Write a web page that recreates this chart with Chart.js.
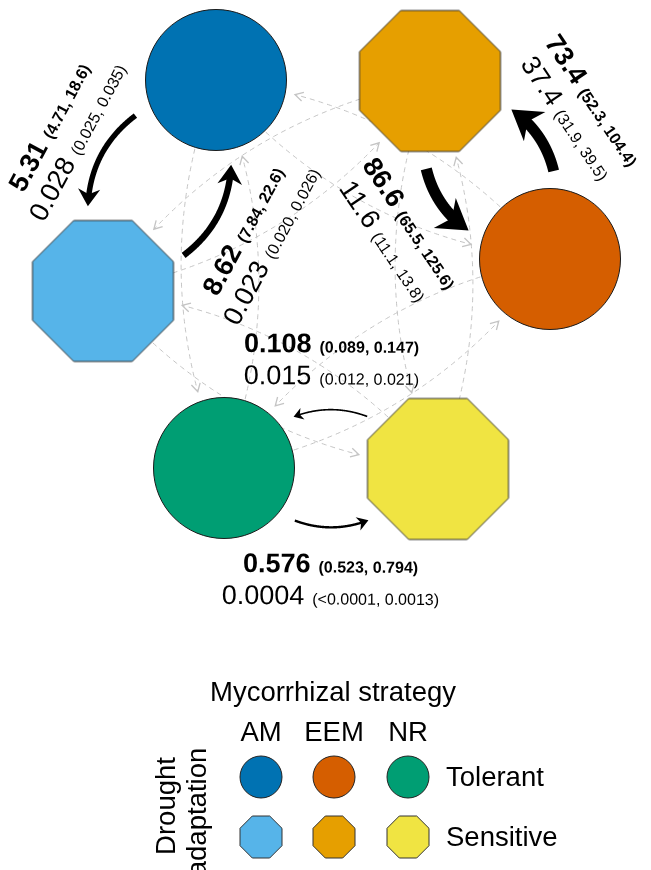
<!DOCTYPE html>
<html>
<head>
<meta charset="utf-8">
<script src="https://cdn.jsdelivr.net/npm/chart.js@4.4.1/dist/chart.umd.min.js"></script>
<style>
  html, body { margin: 0; padding: 0; background: #fff; }
  canvas { display: block; }
</style>
</head>
<body>
<canvas id="chart" width="651" height="870"></canvas>
<script>
// states: mycorrhizal strategy x drought adaptation
const stateNames = ['AM tolerant', 'AM sensitive', 'EEM sensitive', 'EEM tolerant', 'NR tolerant', 'NR sensitive'];
const stateMyco = ['AM', 'AM', 'EEM', 'EEM', 'NR', 'NR'];
const stateDrought = ['Tolerant', 'Sensitive', 'Sensitive', 'Tolerant', 'Tolerant', 'Sensitive'];
const stateX = [216, 103, 430, 550, 224, 438];
const stateY = [80, 291, 81, 259, 468, 469];
const stateShape = ['circle', 'octagon', 'octagon', 'circle', 'circle', 'octagon'];
const stateColor = ['#0072B2', '#56B4E9', '#E69F00', '#D55E00', '#009E73', '#F0E442'];

// drought-adaptation transitions (black arrows)
const fromState = [0, 1, 2, 3, 5, 4];
const toState = [1, 0, 3, 2, 4, 5];
const rate = ['5.31', '8.62', '86.6', '73.4', '0.108', '0.576'];
const rateCI = ['(4.71, 18.6)', '(7.84, 22.6)', '(65.5, 125.6)', '(52.3, 104.4)', '(0.089, 0.147)', '(0.523, 0.794)'];
const prob = ['0.028', '0.023', '11.6', '37.4', '0.015', '0.0004'];
const probCI = ['(0.025, 0.035)', '(0.020, 0.026)', '(11.1, 13.8)', '(31.9, 39.5)', '(0.012, 0.021)', '(<0.0001, 0.0013)'];

// legend
const legendTitle = 'Mycorrhizal strategy';
const strategyLabels = ['AM', 'EEM', 'NR'];
const adaptationLabels = ['Tolerant', 'Sensitive'];
const adaptationTitle = ['Drought', 'adaptation'];

const FONT = '"Liberation Sans", Arial, sans-serif';
const NODE_R = 70.5;

function octagon(color, apothem) {
  const R = apothem / Math.cos(Math.PI / 8);
  const size = Math.ceil(2 * R + 4);
  const c = document.createElement('canvas');
  c.width = c.height = size;
  const g = c.getContext('2d');
  tracePoly(g, size / 2, size / 2, R);
  g.fillStyle = color;
  g.fill();
  g.strokeStyle = '#333';
  g.lineWidth = 1;
  g.stroke();
  return c;
}

function tracePoly(g, cx, cy, R) {
  g.beginPath();
  for (let i = 0; i < 8; i++) {
    const a = Math.PI / 8 + i * Math.PI / 4;
    const x = cx + R * Math.cos(a), y = cy + R * Math.sin(a);
    if (i) g.lineTo(x, y); else g.moveTo(x, y);
  }
  g.closePath();
}

function pix(chart, i) {
  return [chart.scales.x.getPixelForValue(stateX[i]), chart.scales.y.getPixelForValue(stateY[i])];
}

// curved edge between two state centres, clipped near both nodes
function edgePath(a, b, k, startGap, endGap) {
  const dx = b[0] - a[0], dy = b[1] - a[1], L = Math.hypot(dx, dy);
  const nx = -dy / L, ny = dx / L;
  const cx = (a[0] + b[0]) / 2 + k * L * nx, cy = (a[1] + b[1]) / 2 + k * L * ny;
  const P = t => [
    (1 - t) * (1 - t) * a[0] + 2 * (1 - t) * t * cx + t * t * b[0],
    (1 - t) * (1 - t) * a[1] + 2 * (1 - t) * t * cy + t * t * b[1]
  ];
  const d = (p, q) => Math.hypot(p[0] - q[0], p[1] - q[1]);
  let t0 = 0;
  while (t0 < 1 && d(P(t0), a) < startGap) t0 += 0.002;
  let t1 = 1;
  while (t1 > t0 && d(P(t1), b) < endGap) t1 -= 0.002;
  return { P, t0, t1, d };
}

function strokeCurve(ctx, P, t0, t1) {
  ctx.beginPath();
  const n = 150;
  for (let s = 0; s <= n; s++) {
    const p = P(t0 + (t1 - t0) * s / n);
    if (s) ctx.lineTo(p[0], p[1]); else ctx.moveTo(p[0], p[1]);
  }
  ctx.stroke();
}

function drawGreyEdge(ctx, a, b) {
  const e = edgePath(a, b, 0.2, 0, 80);
  ctx.save();
  ctx.strokeStyle = '#c4c4c4';
  ctx.lineWidth = 1;
  ctx.setLineDash([5, 4]);
  strokeCurve(ctx, e.P, e.t0, e.t1);
  ctx.setLineDash([]);
  const tip = e.P(e.t1), prev = e.P(e.t1 - 0.01);
  const ux = tip[0] - prev[0], uy = tip[1] - prev[1], ul = Math.hypot(ux, uy);
  const tx = ux / ul, ty = uy / ul;
  ctx.beginPath();
  ctx.moveTo(tip[0] - 8 * tx - 4.5 * ty, tip[1] - 8 * ty + 4.5 * tx);
  ctx.lineTo(tip[0], tip[1]);
  ctx.lineTo(tip[0] - 8 * tx + 4.5 * ty, tip[1] - 8 * ty - 4.5 * tx);
  ctx.lineWidth = 1.3;
  ctx.stroke();
  ctx.restore();
}

function drawBlackEdge(ctx, a, b, value) {
  const w = 1.4 + 2.2 * Math.log(1 + value);
  const e = edgePath(a, b, 0.55, 88, 86);
  const headLen = 6 + 2.1 * w, halfW = 4 + 1.3 * w;
  const tip = e.P(e.t1);
  let t2 = e.t1;
  while (t2 > e.t0 && e.d(e.P(t2), tip) < 0.62 * headLen) t2 -= 0.002;
  const prev = e.P(e.t1 - 0.03);
  const ux = tip[0] - prev[0], uy = tip[1] - prev[1], ul = Math.hypot(ux, uy);
  const tx = ux / ul, ty = uy / ul;
  ctx.save();
  ctx.strokeStyle = '#000';
  ctx.lineWidth = w;
  ctx.lineCap = 'butt';
  strokeCurve(ctx, e.P, e.t0, t2);
  ctx.fillStyle = '#000';
  ctx.beginPath();
  ctx.moveTo(tip[0], tip[1]);
  ctx.lineTo(tip[0] - headLen * tx - halfW * ty, tip[1] - headLen * ty + halfW * tx);
  ctx.lineTo(tip[0] - 0.7 * headLen * tx, tip[1] - 0.7 * headLen * ty);
  ctx.lineTo(tip[0] - headLen * tx + halfW * ty, tip[1] - headLen * ty - halfW * tx);
  ctx.closePath();
  ctx.fill();
  ctx.restore();
}

function drawPair(ctx, main, ci, bold, y) {
  const b = bold ? 'bold ' : '';
  ctx.font = b + '27px ' + FONT;
  const w1 = ctx.measureText(main).width;
  ctx.font = b + '16px ' + FONT;
  const w2 = ctx.measureText(ci).width;
  const gap = 8;
  const x0 = -(w1 + gap + w2) / 2;
  ctx.font = b + '27px ' + FONT;
  ctx.fillText(main, x0, y);
  ctx.font = b + '16px ' + FONT;
  ctx.fillText(ci, x0 + w1 + gap, y);
}

function drawLabel(ctx, a, b, i) {
  const dx = b[0] - a[0], dy = b[1] - a[1], L = Math.hypot(dx, dy);
  const nx = -dy / L, ny = dx / L;
  const lx = (a[0] + b[0]) / 2 + 110 * nx, ly = (a[1] + b[1]) / 2 + 110 * ny;
  let th = Math.atan2(dy, dx);
  if (th > Math.PI / 2) th -= Math.PI;
  if (th <= -Math.PI / 2) th += Math.PI;
  ctx.save();
  ctx.translate(lx, ly);
  ctx.rotate(th);
  ctx.fillStyle = '#000';
  ctx.textAlign = 'left';
  ctx.textBaseline = 'alphabetic';
  drawPair(ctx, rate[i], rateCI[i], true, -6);
  drawPair(ctx, prob[i], probCI[i], false, 26);
  ctx.restore();
}

function drawLegend(ctx) {
  const colX = [261, 334, 408];
  const rowY = [777, 837];
  ctx.save();
  ctx.fillStyle = '#000';
  ctx.font = '27.5px ' + FONT;
  ctx.textAlign = 'center';
  ctx.textBaseline = 'alphabetic';
  ctx.fillText(legendTitle, 333, 701);
  strategyLabels.forEach((s, j) => ctx.fillText(s, colX[j], 741));
  ctx.textAlign = 'left';
  ctx.textBaseline = 'middle';
  adaptationLabels.forEach((s, r) => ctx.fillText(s, 446, rowY[r] + 1));
  // one marker per state: row by drought adaptation, column by strategy
  stateNames.forEach((s, i) => {
    const x = colX[strategyLabels.indexOf(stateMyco[i])];
    const y = rowY[adaptationLabels.indexOf(stateDrought[i])];
    if (stateShape[i] === 'circle') {
      ctx.beginPath();
      ctx.arc(x, y, 21, 0, 2 * Math.PI);
      ctx.strokeStyle = '#222';
    } else {
      tracePoly(ctx, x, y, 21 / Math.cos(Math.PI / 8));
      ctx.strokeStyle = '#333';
    }
    ctx.fillStyle = stateColor[i];
    ctx.fill();
    ctx.lineWidth = 1;
    ctx.stroke();
  });
  ctx.fillStyle = '#000';
  ctx.textAlign = 'center';
  ctx.textBaseline = 'alphabetic';
  ctx.translate(175, 806);
  ctx.rotate(-Math.PI / 2);
  ctx.fillText(adaptationTitle[0], 0, 0);
  ctx.fillText(adaptationTitle[1], -6, 31);
  ctx.restore();
}

const networkPlugin = {
  id: 'network',
  beforeDatasetsDraw(chart) {
    // strategy transitions within the same drought class (grey dashed)
    const ctx = chart.ctx;
    for (let f = 0; f < stateNames.length; f++) {
      for (let t = 0; t < stateNames.length; t++) {
        if (f === t || stateDrought[f] !== stateDrought[t]) continue;
        drawGreyEdge(ctx, pix(chart, f), pix(chart, t));
      }
    }
  },
  afterDatasetsDraw(chart) {
    const ctx = chart.ctx;
    fromState.forEach((f, i) => {
      const a = pix(chart, f), b = pix(chart, toState[i]);
      drawBlackEdge(ctx, a, b, parseFloat(rate[i]));
      drawLabel(ctx, a, b, i);
    });
    drawLegend(ctx);
  }
};

new Chart(document.getElementById('chart'), {
  type: 'scatter',
  data: {
    labels: stateNames,
    datasets: [{
      data: stateX.map((x, i) => ({ x: x, y: stateY[i] })),
      pointStyle: stateShape.map((s, i) => s === 'circle' ? 'circle' : octagon(stateColor[i], NODE_R)),
      pointRadius: NODE_R,
      pointBackgroundColor: stateColor,
      pointBorderColor: '#1a1a1a',
      pointBorderWidth: 1,
      clip: false
    }]
  },
  options: {
    responsive: false,
    animation: false,
    events: [],
    layout: { padding: 0, autoPadding: false },
    plugins: { legend: { display: false }, tooltip: { enabled: false } },
    scales: {
      x: { type: 'linear', min: 0, max: 651, display: false },
      y: { type: 'linear', min: 0, max: 870, reverse: true, display: false }
    }
  },
  plugins: [networkPlugin]
});
</script>
</body>
</html>
